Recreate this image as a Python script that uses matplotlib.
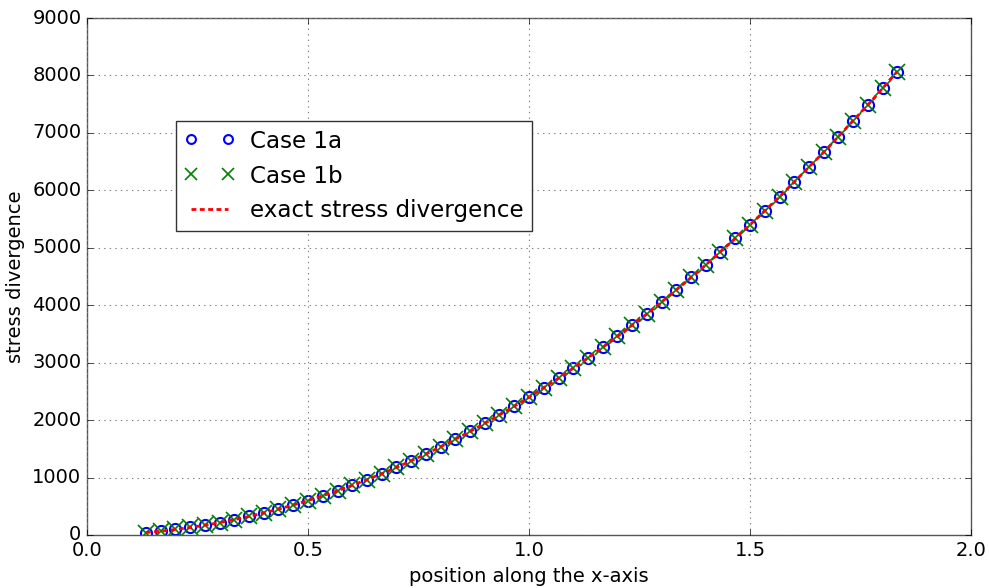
import matplotlib
matplotlib.use('Agg')
import matplotlib.pyplot as plt

# positions of the sample points (x = k/30, k = 4..55)
x_pos = [0.133, 0.167, 0.200, 0.233, 0.267, 0.300, 0.333, 0.367, 0.400, 0.433,
         0.467, 0.500, 0.533, 0.567, 0.600, 0.633, 0.667, 0.700, 0.733, 0.767,
         0.800, 0.833, 0.867, 0.900, 0.933, 0.967, 1.000, 1.033, 1.067, 1.100,
         1.133, 1.167, 1.200, 1.233, 1.267, 1.300, 1.333, 1.367, 1.400, 1.433,
         1.467, 1.500, 1.533, 1.567, 1.600, 1.633, 1.667, 1.700, 1.733, 1.767,
         1.800, 1.833]

# stress divergence
exact = [43, 67, 96, 131, 171, 216, 267, 323, 384, 451,
         523, 600, 683, 771, 864, 963, 1067, 1176, 1291, 1411,
         1536, 1667, 1803, 1944, 2091, 2243, 2400, 2563, 2731, 2904,
         3083, 3267, 3456, 3651, 3851, 4056, 4267, 4483, 4704, 4931,
         5163, 5400, 5643, 5891, 6144, 6403, 6667, 6936, 7211, 7491,
         7776, 8067]
case_1a = list(exact)
case_1b = list(exact)

plt.style.use('classic')
plt.rcParams['font.family'] = ['DejaVu Sans']

fig = plt.figure(figsize=(9.89, 5.88), dpi=100)
fig.patch.set_facecolor('white')
ax = fig.add_axes([87 / 989, 53 / 588, 884 / 989, 517 / 588])

ax.plot(x_pos, case_1a, 'o', markerfacecolor='none', markeredgecolor='b',
        markeredgewidth=1.5, markersize=8, label='Case 1a')
ax.plot(x_pos, case_1b, 'x', color='g', markeredgewidth=1.2, markersize=11,
        label='Case 1b')
ax.plot(x_pos, exact, 'r--', linewidth=2, dashes=(3.5, 2.5),
        label='exact stress divergence')

ax.set_xlim(0, 2)
ax.set_ylim(0, 9000)
ax.set_xticks([0.0, 0.5, 1.0, 1.5, 2.0])
ax.set_yticks(range(0, 9001, 1000))
ax.tick_params(labelsize=14)
ax.set_xlabel('position along the x-axis', fontsize=14)
ax.set_ylabel('stress divergence', fontsize=14)
ax.grid(True, color='gray', linestyle=':', linewidth=0.8)
for sp in ax.spines.values():
    sp.set_color('#555555')

leg = ax.legend(loc='upper left', bbox_to_anchor=(0.1007, 0.8008), numpoints=2,
                fontsize=16.6, handlelength=2.2, borderpad=0.37, borderaxespad=0,
                labelspacing=0.52, handletextpad=0.65, markerscale=0.8)
leg.get_frame().set_edgecolor('#333333')

fig.savefig('out.png', dpi=100, facecolor='white')
